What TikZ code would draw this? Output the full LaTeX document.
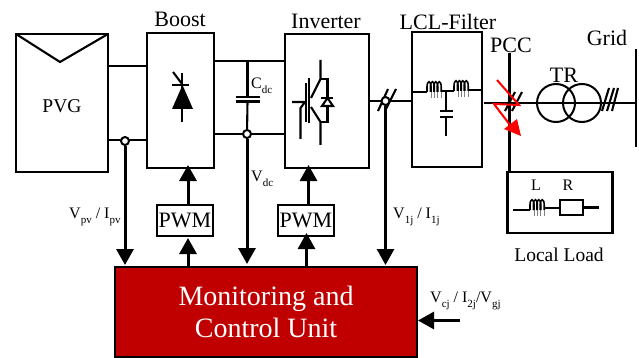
\documentclass[tikz,border=0pt]{standalone}
\usepackage{fontspec}
\setmainfont{Liberation Serif}
\usetikzlibrary{arrows.meta}
\newcommand{\fsz}[1]{\fontsize{#1}{#1}\selectfont}
\newcommand{\lowsub}[1]{\raisebox{-0.32em}{\fsz{11}#1}}
\newcommand{\coil}[3]{% x, y base, number of humps
  \foreach \i in {1,...,#3}{
    \pgfmathsetmacro{\cx}{#1+(\i-1)*3.4}
    \pgfmathsetmacro{\cy}{#2}
    \draw[line width=1.6pt] (\cx,\cy) -- (\cx,\cy-5) .. controls (\cx,\cy-12) and (\cx+4,\cy-12) .. (\cx+4,\cy-5) -- (\cx+4,\cy);
    \draw[line width=0.8pt,gray] (\cx+4,\cy) -- (\cx+4,\cy+6);
  }
}
\tikzset{
  wire/.style={line width=2.1pt,black},
  thick wire/.style={line width=3pt,black},
  boxnode/.style={draw=black,line width=2.2pt,rectangle,inner sep=0pt,outer sep=0pt,fill=white},
  title/.style={inner sep=0pt,font=\fsz{22}},
  siglabel/.style={inner sep=0pt,font=\fsz{16},anchor=west},
  junction/.style={circle,draw=black,fill=white,line width=2pt,minimum size=8pt,inner sep=0pt},
  sigarrow/.style={thick wire,-{Triangle[length=16pt,width=17pt]}},
  redline/.style={line width=2pt,red}
}
\begin{document}
\begin{tikzpicture}[x=1pt,y=-1pt]
\useasboundingbox (0,0) rectangle (639,358);
\fill[white] (0,0) rectangle (639,358);
% boxes
\node[boxnode,minimum width=92pt,minimum height=138pt] (pvg) at (62,103) {};
\node[font=\fsz{19.5},inner sep=0pt] (pvgt) at (62,106) {PVG};
\node[boxnode,minimum width=67pt,minimum height=135pt] (boost) at (180.5,100.5) {};
\node[boxnode,minimum width=84pt,minimum height=134pt] (inv) at (327,101) {};
\node[boxnode,minimum width=70pt,minimum height=135pt] (lcl) at (447,99.5) {};
\node[boxnode,minimum width=105pt,minimum height=61pt] (load) at (560,202.5) {};
\node[boxnode,minimum width=56pt,minimum height=31pt,font=\fsz{22}] (pwma) at (185,220.5) {PWM};
\node[boxnode,minimum width=56pt,minimum height=31pt,font=\fsz{22}] (pwmb) at (306,220.5) {PWM};
\node[boxnode,fill={rgb,255:red,192;green,0;blue,0},minimum width=302pt,minimum height=90pt,text=white,font=\fsz{28},align=center] (mcu) at (266,312) {\fsz{28}Monitoring and\\[4pt]\fsz{28}Control Unit};
% titles
\node[title] (tboost) at (180,19) {Boost};
\node[title] (tinv) at (326,21) {Inverter};
\node[title] (tlcl) at (448,22) {LCL-Filter};
\node[title] (tpcc) at (511,45) {PCC};
\node[title] (tgrid) at (607,38) {Grid};
\node[title] (ttr) at (564,75) {TR};
\node[font=\fsz{19.5},inner sep=0pt] (tload) at (559,255) {Local Load};
\node[font=\fsz{16},inner sep=0pt] (tl) at (536,185) {L};
\node[font=\fsz{16},inner sep=0pt] (tr) at (568,185) {R};
% labels
\node[siglabel] (lcdc) at (251,86) {C\lowsub{dc}};
\node[siglabel] (lvdc) at (251,179) {V\lowsub{dc}};
\node[siglabel] (lvpv) at (69,217) {V\lowsub{pv} / I\lowsub{pv}};
\node[siglabel] (lv1j) at (393,217) {V\lowsub{1j} / I\lowsub{1j}};
\node[siglabel] (lvcj) at (430,301) {V\lowsub{cj} / I\lowsub{2j}/V\lowsub{gj}};
% PV module mark
\coordinate (vtip) at (60,62);
\draw[wire,line join=miter] (pvg.north west) -- (vtip) -- (pvg.north east);
% DC wires
\draw[wire] (pvg.east |- 0,66) -- (boost.west |- 0,66);
\draw[wire] (pvg.east |- 0,140) -- (boost.west |- 0,140);
\draw[wire] (boost.east |- 0,61) -- (inv.west |- 0,61);
\draw[wire] (boost.east |- 0,134) -- (inv.west |- 0,134);
% capacitor
\coordinate (captop) at (247.5,61);
\coordinate (capa) at (247.5,97);
\coordinate (capb) at (247.5,101.5);
\coordinate (capbot) at (247,134);
\draw[wire] (captop) -- (capa);
\draw[wire] (capb) -- (capbot);
\draw[wire] (235.5,97) -- (259.5,97);
\draw[wire] (235.5,101.5) -- (259.5,101.5);
% boost diode
\fill[black] (172,109) -- (193,109) -- (182.5,85) -- cycle;
\draw[wire] (182,73) -- (182,122);
\draw[wire] (172,85) -- (189,85);
\draw[wire] (173,72) -- (182,84);
% IGBT
\draw[wire] (292,102) -- (305,102) -- (300.5,108) -- (300.5,139);
\draw[wire] (306,83) -- (306,122);
\draw[wire] (309,78) -- (309,123);
\draw[wire] (320.5,60) -- (320.5,79) -- (311,98);
\draw[wire] (311,107) -- (320.5,122) -- (320.5,145);
\draw[wire] (320.5,79) -- (327.5,79) -- (327.5,98);
\draw[wire] (320.5,122) -- (327.5,122) -- (327.5,106);
\draw[wire] (322,106) -- (333,106) -- (327.5,98) -- cycle;
\draw[wire] (321,98) -- (333,98);
% AC wire to filter
\draw[wire] (inv.east |- 0,101) -- (lcl.west |- 0,101);
\foreach \xa/\xb in {378/388,385/396}{\draw[wire] (\xa,111) -- (\xb,89);}
% LCL internals
\draw[wire] (lcl.west |- 0,92) -- (427,92);
\coil{427}{92}{4}
\draw[wire] (441,91) -- (454,91);
\coil{454}{91}{4}
\draw[wire] (468,90) -- (lcl.east |- 0,90);
\draw[wire] (446,91) -- (446,111);
\draw[wire] (446,117) -- (446,136);
\draw[wire] (440,111) -- (453,111);
\draw[wire] (440,117) -- (453,117);
% grid side
\coordinate (pcctop) at (509.5,53);
\coordinate (gridtop) at (636,49);
\coordinate (gridbot) at (636,147);
\coordinate (acl) at (484,103);
\draw[wire] (pcctop) -- (load.north -| pcctop);
\draw[wire] (gridtop) -- (gridbot);
\draw[wire] (acl) -- (gridtop |- acl);
\node[circle,draw=black,line width=2pt,minimum size=38pt,inner sep=0pt,outer sep=0pt] (tra) at (556,103) {};
\node[circle,draw=black,line width=2pt,minimum size=38pt,inner sep=0pt,outer sep=0pt] (trb) at (582,103) {};
\foreach \xa/\xb in {505/515,512/522}{\draw[wire] (\xa,111) -- (\xb,92);}
\foreach \xa/\xb in {602/609,607/614,612/618}{\draw[wire] (\xa,111) -- (\xb,88);}
% load internals
\draw[wire] (513,210) -- (530,210);
\coil{530}{210}{4}
\draw[wire] (544,208) -- (560,208);
\node[boxnode,minimum width=23pt,minimum height=14.5pt] (res) at (571.5,207.5) {};
\draw[wire] (res.east) -- (599,207.5);
% red arrow
\coordinate (ra) at (497,80);
\coordinate (rb) at (519,105);
\coordinate (rc) at (494,104);
\coordinate (rd) at (510,125);
\draw[redline,line join=miter] (ra) -- (rb) -- (rc) -- (rd);
\fill[red] (521,136) -- (504,129) -- (517,119) -- cycle;
% signal arrows
\draw[sigarrow] (pwma.north -| 188,0) -- (188,165);
\draw[sigarrow] (mcu.north -| 188,0) -- (188,238);
\draw[sigarrow] (pwmb.north -| 308.5,0) -- (308.5,165);
\draw[sigarrow] (mcu.north -| 306.5,0) -- (306.5,233);
\node[junction] (ja) at (125,141) {};
\node[junction] (jb) at (247,134) {};
\node[junction] (jc) at (385.5,101) {};
\draw[sigarrow] (ja) -- (125,265);
\draw[sigarrow] (jb) -- (247,264);
\draw[sigarrow] (jc) -- (385.5,265);
\coordinate (vcj) at (460,320.5);
\draw[sigarrow] (vcj) -- (418,320.5);
\end{tikzpicture}
\end{document}
